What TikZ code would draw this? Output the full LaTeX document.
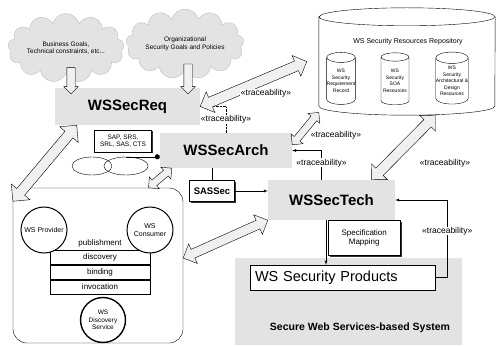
\documentclass[tikz,border=0pt]{standalone}
\usepackage{fontspec}
\setmainfont{Liberation Sans}
\usetikzlibrary{positioning,calc,shapes.geometric,shapes.arrows,shapes.symbols,shadows,arrows.meta}

% fat hollow arrow between two points
\newcommand\blockarrow[3][]{%
  \path let \p1=(#2), \p2=(#3), \n1={atan2(\y2-\y1,\x2-\x1)}, \n2={veclen(\x2-\x1,\y2-\y1)} in
    node[hollow, #1, minimum height=\n2, rotate=\n1] at ($(\p1)!0.5!(\p2)$) {};}

\begin{document}
\begin{tikzpicture}[x=1pt, y=-1pt, >=latex,
  band/.style={fill=gray!22, inner sep=0pt},
  stage/.style={band, font=\bfseries\fontsize{15}{15}\selectfont},
  cloudy/.style={cloud, cloud puffs=13, aspect=2.2, fill=gray!22, draw=gray!50, align=center, inner sep=0pt, font=\fontsize{6.5}{7.5}\selectfont},
  db/.style={cylinder, shape border rotate=90, draw, fill=white, align=center, inner sep=0pt, aspect=0.35},
  tiny/.style={font=\fontsize{5}{6.5}\selectfont},
  trace/.style={font=\fontsize{8.5}{9}\selectfont, fill=white, inner sep=0.5pt},
  boxshadow/.style={drop shadow={shadow xshift=1.5pt, shadow yshift=-1.5pt, fill=black, opacity=0.8}},
  paper/.style={draw, fill=white, align=center, inner sep=2pt, boxshadow},
  actor/.style={circle, draw, line width=1pt, fill=white, align=center, inner sep=0pt, font=\fontsize{7}{8}\selectfont},
  row/.style={draw, minimum width=100pt, minimum height=14.5pt, inner sep=0pt, font=\fontsize{8}{8}\selectfont},
  hollow/.style={double arrow, draw, fill=gray!12, inner xsep=0pt, inner ysep=5pt, double arrow head extend=6pt},
  ]
\useasboundingbox (0,0) rectangle (497,347);

% inputs
\node[cloudy, minimum width=107pt, minimum height=50pt] (goals) at (66,48) {Business Goals,\\Technical constraints, etc...};
\node[cloudy, minimum width=110pt, minimum height=52pt] (policies) at (185,44) {Organizational\\Security Goals and Policies};

% stages
\node[stage, minimum width=145pt, minimum height=37pt] (req) at (127.5,106.5) {WSSecReq};
\node[stage, minimum width=132pt, minimum height=35pt] (arch) at (226,150.5) {WSSecArch};
\node[stage, minimum width=127pt, minimum height=40pt] (tech) at (331.5,200) {WSSecTech};

% repository
\node[minimum width=176pt, minimum height=107pt, inner sep=0pt] (repo) at (407,61.5) {};
\draw[fill=white] ([yshift=-9pt]repo.north west) -- ([yshift=9pt]repo.south west)
  arc[start angle=180, end angle=360, x radius=88pt, y radius=9pt]
  -- ([yshift=-9pt]repo.north east)
  arc[start angle=0, end angle=180, x radius=88pt, y radius=9pt] -- cycle;
\draw ([yshift=-9pt]repo.north west) arc[start angle=180, end angle=360, x radius=88pt, y radius=9pt];
\node[font=\fontsize{7}{8}\selectfont] (repolabel) at (408,42) {WS Security Resources Repository};
\node[db, tiny, minimum width=28pt, minimum height=52pt] (record) at (341,81) {WS\\Security\\Requirement\\Record};
\node[db, tiny, minimum width=28pt, minimum height=52pt] (soa) at (395,81) {WS\\Security\\SOA\\Resources};
\node[db, tiny, minimum width=30pt, minimum height=52pt] (design) at (452,81) {WS\\Security\\Architectural \&\\Design\\Resources};

% requirement artifacts
\node[paper, font=\fontsize{6.5}{7.5}\selectfont, minimum width=57pt, minimum height=22pt] (artifacts) at (123,141) {SAP, SRS,\\SRL, SAS, CTS};
\node[draw, ellipse, minimum width=40pt, minimum height=18pt] (ovl) at (92,166) {};
\node[draw, ellipse, minimum width=44pt, minimum height=18pt] (ovr) at (126,166) {};
\draw[-{Circle[length=5pt]}] (ovr.north) -- (ovr.north -| arch.west);

% SASSec
\node[paper, font=\bfseries\fontsize{9.5}{10}\selectfont, minimum width=45pt, minimum height=21pt] (sassec) at (212,191) {SASSec};
\draw (arch.south -| sassec.north) -- (sassec.north);
\draw[->] (sassec.east) -- (sassec.east -| tech.west);

% WS environment
\node[draw, rounded corners=14pt, minimum width=170pt, minimum height=155pt] (env) at (98,265.5) {};
\node[font=\fontsize{8}{8}\selectfont] (pub) at (100,243) {publishment};
\node[row] (disc) at (100,257.25) {discovery};
\node[row, below=0pt of disc] (bind) {binding};
\node[row, below=0pt of bind] (invoc) {invocation};
\node[actor, minimum size=46pt] (provider) at (44,230) {WS Provider};
\node[actor, minimum size=46pt] (consumer) at (150,230) {WS\\Consumer};
\node[actor, line width=1.4pt, minimum size=45pt, font=\fontsize{6.5}{7.5}\selectfont] (discsvc) at (103,320) {WS\\Discovery\\Service};

% system
\node[band, minimum width=227pt, minimum height=87pt] (sys) at (348.5,301.5) {};
\node[draw, fill=white, minimum width=185pt, minimum height=25pt, text width=175pt, align=left, font=\fontsize{14.5}{15}\selectfont] (prod) at (342.5,277.5) {WS Security Products};
\node[font=\bfseries\fontsize{10.5}{11}\selectfont] (syslabel) at (360,328) {Secure Web Services-based System};
\node[paper, font=\fontsize{8}{9}\selectfont, minimum width=72pt, minimum height=35pt, anchor=north west] (spec) at (328,220) {Specification\\Mapping};
\draw[->] ([xshift=-5.5pt]tech.south) -- ([xshift=-5.5pt]tech.south |- prod.north);

% traceability links
\draw[densely dotted] (req.east) -| node[trace, pos=0.75] {<<traceability>>} (arch.north);
\draw[->] ([xshift=-10pt]tech.north) |- node[trace, pos=0.29] {<<traceability>>} (arch.east);
\draw[->] (prod.east) -- ++(12,0) |- node[trace, pos=0.3] {<<traceability>>} (tech.east);

% fat arrows
\blockarrow[single arrow, inner ysep=4pt, single arrow head extend=3pt]{[xshift=5pt,yshift=8pt]goals.south}{[xshift=5pt,yshift=-4pt]goals.south |- req.north}
\blockarrow[single arrow, inner ysep=4pt, single arrow head extend=3pt]{[xshift=3pt,yshift=8pt]policies.south}{[xshift=3pt,yshift=-4pt]policies.south |- req.north}
\blockarrow{req.east}{[xshift=-12pt]repo.west}
\blockarrow[inner ysep=3.5pt, double arrow head extend=4pt]{[yshift=-12pt]arch.north east}{repo.210}
\blockarrow{[xshift=40pt]tech.north}{repo.298}
\blockarrow[double arrow head extend=7pt]{[xshift=22pt]req.south west}{env.143}
\blockarrow[inner ysep=3.5pt, double arrow head extend=4pt]{env.57}{[xshift=12pt]arch.south west}
\blockarrow[inner ysep=4.5pt]{env.5}{tech.south west}
\node[trace] (tr1) at (266,93) {<<traceability>>};
\node[trace] (tr3) at (336,135) {<<traceability>>};
\node[trace] (tr5) at (445,163) {<<traceability>>};
\end{tikzpicture}
\end{document}
